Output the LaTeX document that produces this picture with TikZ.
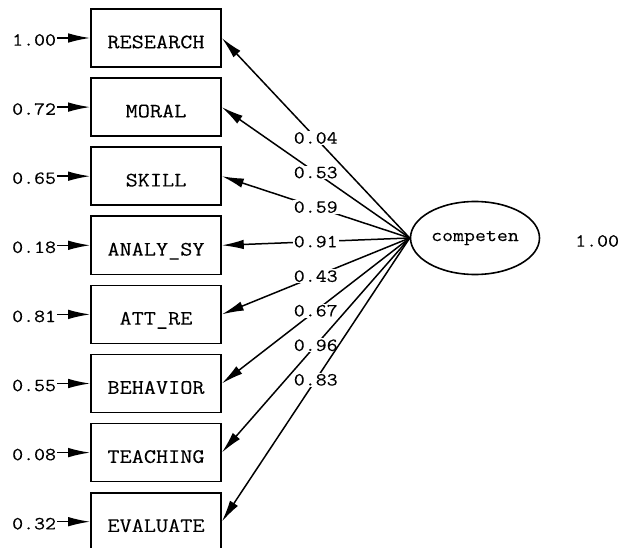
\documentclass[tikz,border=0pt]{standalone}
\usepackage{fontspec}
\newfontfamily\lisfont[FakeStretch=1.15, FakeBold=0.12]{Latin Modern Mono}
\usetikzlibrary{arrows.meta, shapes.geometric, positioning}

\begin{document}
\begin{tikzpicture}[x=1pt, y=-1pt, >={Latex[length=22pt, width=9.5pt]}]
		\tikzset{obs/.style={rectangle, draw, line width=1.6pt, minimum width=130pt, minimum height=58pt, inner sep=0, font=\lisfont\fontsize{20.5}{22}\selectfont, text height=20.5pt, text depth=0pt}}
		\tikzset{lat/.style={ellipse, draw, line width=1.6pt, minimum width=129pt, minimum height=73pt, inner sep=0, font=\lisfont\fontsize{18.5}{20}\selectfont}}
		\tikzset{val/.style={font=\lisfont\fontsize{18.5}{20}\selectfont, inner sep=1pt}}
		\tikzset{load/.style={val, fill=white}}
		\tikzset{ar/.style={->, line width=1.5pt}}
		\useasboundingbox (0,0) rectangle (621,548);
		\node[obs] at (156, 38.0) (research) {RESEARCH};
		\node[obs] at (156, 107.1) (moral) {MORAL};
		\node[obs] at (156, 176.2) (skill) {SKILL};
		\node[obs] at (156, 245.3) (analy) {ANALY\_SY};
		\node[obs] at (156, 314.4) (attre) {ATT\_RE};
		\node[obs] at (156, 383.5) (behavior) {BEHAVIOR};
		\node[obs] at (156, 452.6) (teaching) {TEACHING};
		\node[obs] at (156, 521.7) (evaluate) {EVALUATE};
		\node[lat] at (475, 238) (competen) {competen};
		\node[val, left=33pt of research, yshift=-2pt] (e1) {1.00};
		\node[val, left=33pt of moral, yshift=-2pt] (e2) {0.72};
		\node[val, left=33pt of skill, yshift=-2pt] (e3) {0.65};
		\node[val, left=33pt of analy, yshift=-2pt] (e4) {0.18};
		\node[val, left=33pt of attre, yshift=-2pt] (e5) {0.81};
		\node[val, left=33pt of behavior, yshift=-2pt] (e6) {0.55};
		\node[val, left=33pt of teaching, yshift=-2pt] (e7) {0.08};
		\node[val, left=33pt of evaluate, yshift=-2pt] (e8) {0.32};
		\node[val, anchor=west] at (574, 241) (e9) {1.00};
		\draw[ar] (research.west -| e1.east) -- (research.west);
		\draw[ar] (moral.west -| e2.east) -- (moral.west);
		\draw[ar] (skill.west -| e3.east) -- (skill.west);
		\draw[ar] (analy.west -| e4.east) -- (analy.west);
		\draw[ar] (attre.west -| e5.east) -- (attre.west);
		\draw[ar] (behavior.west -| e6.east) -- (behavior.west);
		\draw[ar] (teaching.west -| e7.east) -- (teaching.west);
		\draw[ar] (evaluate.west -| e8.east) -- (evaluate.west);
		\path[ar] (competen.west) edge node[load] {0.04} (research.east);
		\path[ar] (competen.west) edge node[load] {0.53} (moral.east);
		\path[ar] (competen.west) edge node[load] {0.59} (skill.east);
		\path[ar] (competen.west) edge node[load] {0.91} (analy.east);
		\path[ar] (competen.west) edge node[load] {0.43} (attre.east);
		\path[ar] (competen.west) edge node[load] {0.67} (behavior.east);
		\path[ar] (competen.west) edge node[load] {0.96} (teaching.east);
		\path[ar] (competen.west) edge node[load] {0.83} (evaluate.east);
	\end{tikzpicture}
\end{document}
